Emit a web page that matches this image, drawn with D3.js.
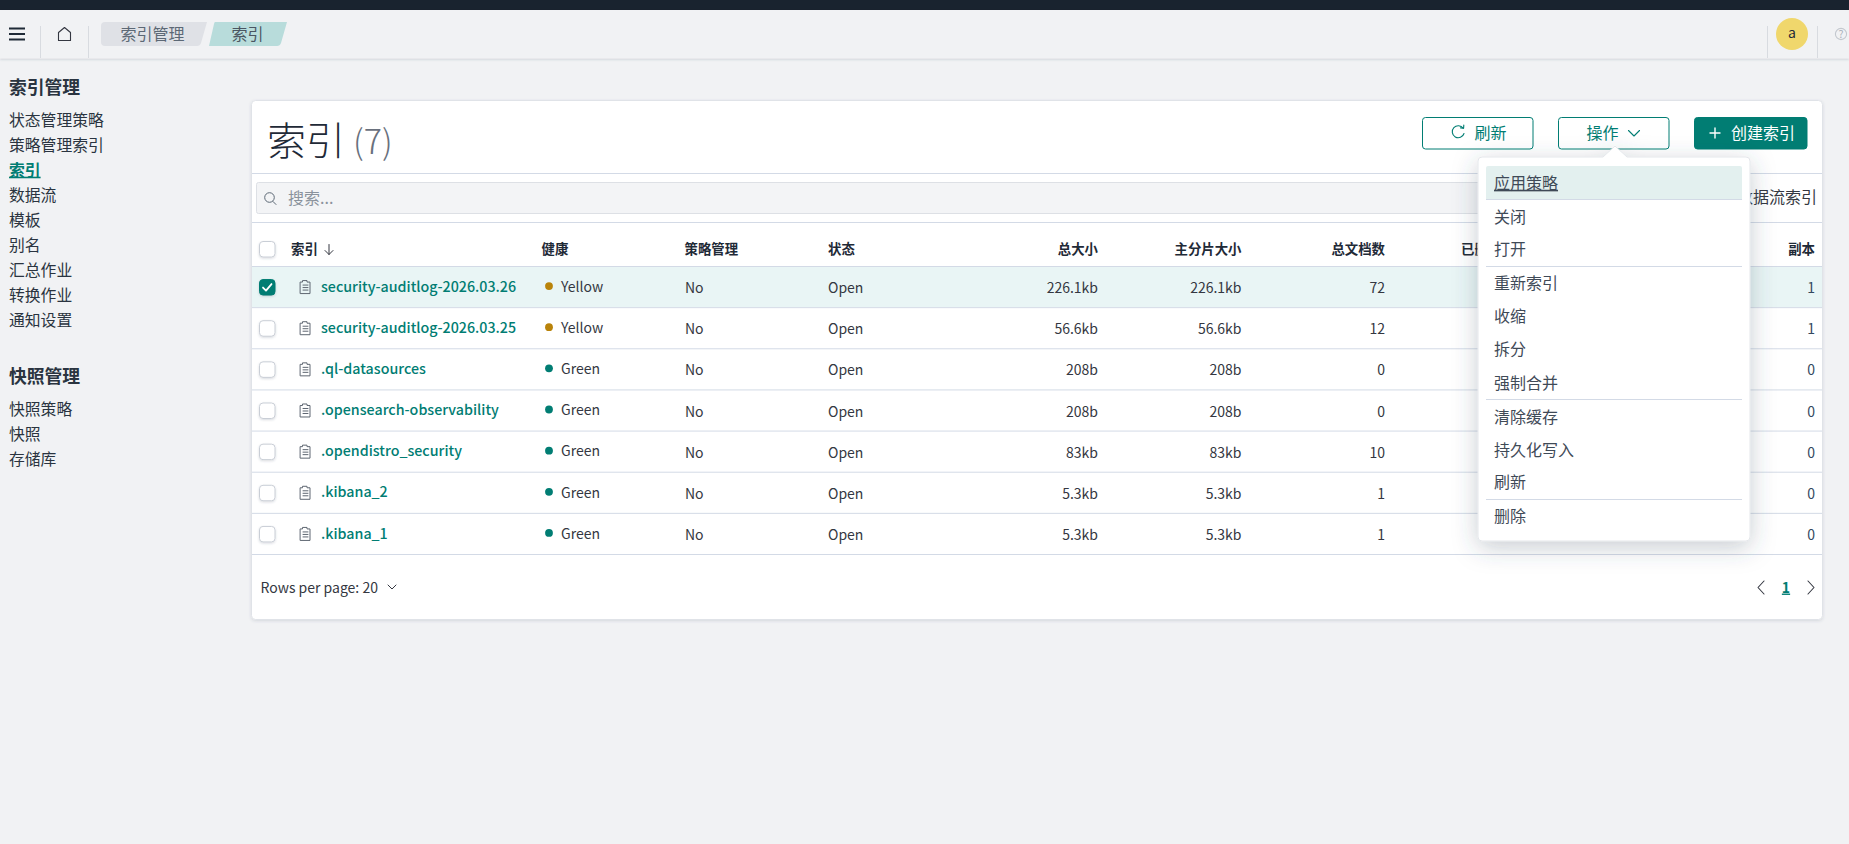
<!DOCTYPE html>
<html lang="zh">
<head>
<meta charset="utf-8">
<title>索引</title>
<script src="https://cdn.jsdelivr.net/npm/d3@7/dist/d3.min.js"></script>
<style>
  html, body { margin: 0; background: #f1f2f4; overflow: hidden; }
  svg { display: block; }
  text { font-family: "Noto Sans CJK SC", "Noto Sans", sans-serif; }
</style>
</head>
<body>
<div id="app"></div>
<script>
const crumbs = ["索引管理", "索引"];
const navIndex = ["状态管理策略", "策略管理索引", "索引", "数据流", "模板", "别名", "汇总作业", "转换作业", "通知设置"];
const navSnapshot = ["快照策略", "快照", "存储库"];
const activeNav = "索引";

const columns = ["索引", "健康", "策略管理", "状态", "总大小", "主分片大小", "总文档数", "已删除文档", "副本"];
const names = ["security-auditlog-2026.03.26", "security-auditlog-2026.03.25", ".ql-datasources", ".opensearch-observability", ".opendistro_security", ".kibana_2", ".kibana_1"];
const health = ["Yellow", "Yellow", "Green", "Green", "Green", "Green", "Green"];
const managed = ["No", "No", "No", "No", "No", "No", "No"];
const status = ["Open", "Open", "Open", "Open", "Open", "Open", "Open"];
const totalSize = ["226.1kb", "56.6kb", "208b", "208b", "83kb", "5.3kb", "5.3kb"];
const primarySize = ["226.1kb", "56.6kb", "208b", "208b", "83kb", "5.3kb", "5.3kb"];
const docCount = ["72", "12", "0", "0", "10", "1", "1"];
const replicas = ["1", "1", "0", "0", "0", "0", "0"];
const selected = [true, false, false, false, false, false, false];

const menuGroups = [["应用策略", "关闭", "打开"], ["重新索引", "收缩", "拆分", "强制合并"], ["清除缓存", "持久化写入", "刷新"], ["删除"]];

const W = 1849, H = 844;
const TEAL = "#017d73", INK = "#343741", NAV = "#2a3440", RULE = "#d3dae6";

const svg = d3.select("#app").append("svg").attr("width", W).attr("height", H).attr("viewBox", `0 0 ${W} ${H}`);
const defs = svg.append("defs");
const shadow = (id, dy, blur, op) => defs.append("filter").attr("id", id)
  .attr("x", "-30%").attr("y", "-30%").attr("width", "160%").attr("height", "170%")
  .append("feDropShadow").attr("dx", 0).attr("dy", dy).attr("stdDeviation", blur)
  .attr("flood-color", "#3a4a5e").attr("flood-opacity", op);
shadow("cardShadow", 1, 1.5, .16);
shadow("popShadow", 6, 12, .28);
shadow("barShadow", 1, 1, .2);

function label(g, x, y, str, o = {}) {
  return g.append("text").attr("x", x).attr("y", y).attr("dy", ".36em")
    .attr("font-size", o.size ?? 16).attr("font-weight", o.weight ?? 400)
    .attr("fill", o.fill ?? INK).attr("text-anchor", o.anchor ?? "start")
    .attr("text-decoration", o.deco ?? null).text(str);
}
function stroke(g, d, color, w = 1.2) {
  return g.append("path").attr("d", d).attr("fill", "none").attr("stroke", color).attr("stroke-width", w)
    .attr("stroke-linecap", "round").attr("stroke-linejoin", "round");
}

// top chrome
svg.append("rect").attr("width", W).attr("height", 10).attr("fill", "#19232f");
const head = svg.append("g");
head.append("rect").attr("y", 10).attr("width", W).attr("height", 48.5).attr("fill", "#f1f2f4").attr("filter", "url(#barShadow)");
[40.5, 88.5, 1767.5, 1817.5].forEach((x) => head.append("line").attr("x1", x).attr("x2", x).attr("y1", 26).attr("y2", 58).attr("stroke", "#d8dbe0"));
[28.5, 34, 39.5].forEach((y) => head.append("line").attr("x1", 9).attr("x2", 25).attr("y1", y).attr("y2", y).attr("stroke", "#1f2a37").attr("stroke-width", 2));
stroke(head, "M58.5 40.5V32.5L64.5 27.5L70.5 32.5V40.5Z", "#343741", 1.1);

const pill = (pts, fill) => head.append("path").attr("d", pts).attr("fill", fill);
pill("M105 22H207L201 43Q200 46 197 46H105Q101 46 101 42V26Q101 22 105 22Z", "#dfe1e6");
pill("M215 22H287L281 43Q280 46 277 46H209L214 24Q214.5 22 215 22Z", "#b8dcdb");
label(head, 152.5, 34.5, crumbs[0], { anchor: "middle", fill: "#5c6875" });
label(head, 247.5, 34.5, crumbs[1], { anchor: "middle", fill: "#4a5561" });

head.append("circle").attr("cx", 1792).attr("cy", 34).attr("r", 16).attr("fill", "#f0d76c");
label(head, 1792, 33, "a", { anchor: "middle", size: 14, fill: "#1f2a37" });
head.append("circle").attr("cx", 1841).attr("cy", 34).attr("r", 5.6).attr("fill", "none").attr("stroke", "#c3c8ce").attr("stroke-width", 1.1);
label(head, 1841, 34, "?", { anchor: "middle", size: 10.5, fill: "#a9b0b9" });

// side nav
const side = svg.append("g");
const navY = d3.scaleLinear().domain([0, 8]).range([120, 320]);
label(side, 9, 88, "索引管理", { size: 17.8, weight: 700, fill: NAV });
side.selectAll("text.nav").data(navIndex).join("text").attr("class", "nav")
  .attr("x", 9).attr("y", (d, i) => navY(i)).attr("dy", ".36em").attr("font-size", 15.8)
  .attr("fill", (d) => d === activeNav ? TEAL : NAV)
  .attr("font-weight", (d) => d === activeNav ? 700 : 400)
  .attr("text-decoration", (d) => d === activeNav ? "underline" : null).text((d) => d);
label(side, 9, 377, "快照管理", { size: 17.8, weight: 700, fill: NAV });
side.selectAll("text.snap").data(navSnapshot).join("text").attr("class", "snap")
  .attr("x", 9).attr("y", (d, i) => navY(i) + 289).attr("dy", ".36em").attr("font-size", 15.8)
  .attr("fill", NAV).text((d) => d);

// card
const card = svg.append("g");
card.append("rect").attr("x", 251.5).attr("y", 100.5).attr("width", 1571).attr("height", 519).attr("rx", 4)
  .attr("fill", "#fff").attr("stroke", "#e0e3e8").attr("filter", "url(#cardShadow)");
label(card, 267, 141, "索引", { size: 39, weight: 300, fill: "#1f2a37" });
label(card, 353, 142, "(7)", { size: 34, weight: 300, fill: "#69707d" });

// toolbar buttons
function button(x, w, filled) {
  return card.append("rect").attr("x", x + .5).attr("y", 117.5).attr("width", w).attr("height", 31.5).attr("rx", 3)
    .attr("fill", filled ? TEAL : "#fff").attr("stroke", TEAL);
}
button(1422, 110.5, false);
stroke(card, "M1463.2 128.3A6 6 0 1 0 1464 133.5", TEAL, 1.1);
stroke(card, "M1460.5 127.9L1463.6 128.1L1463.8 125.1", TEAL, 1.1);
label(card, 1474.5, 133, "刷新", { fill: TEAL });
button(1558, 110.5, false);
label(card, 1586.5, 133, "操作", { fill: TEAL });
stroke(card, "M1628.5 130.5L1634 136L1639.5 130.5", TEAL, 1.1);
button(1694, 112.5, true);
stroke(card, "M1715 128V138M1710 133H1720", "#fff", 1.4);
label(card, 1731, 133, "创建索引", { fill: "#fff" });

// search row
card.append("line").attr("x1", 252).attr("x2", 1822).attr("y1", 173.5).attr("y2", 173.5).attr("stroke", RULE);
card.append("rect").attr("x", 256.5).attr("y", 182.5).attr("width", 1340).attr("height", 31).attr("rx", 2)
  .attr("fill", "#f3f4f6").attr("stroke", "#dde0e5");
card.append("circle").attr("cx", 269.5).attr("cy", 197.5).attr("r", 4.8).attr("fill", "none").attr("stroke", "#5c6875").attr("stroke-width", 1);
stroke(card, "M273 201.5L276 204.5", "#5c6875", 1);
label(card, 288, 198, "搜索...", { fill: "#8a929c" });
label(card, 1817, 197.5, "数据流索引", { anchor: "end", fill: INK });
card.append("line").attr("x1", 252).attr("x2", 1822).attr("y1", 222.5).attr("y2", 222.5).attr("stroke", RULE);

// table
const rowIdx = d3.range(names.length);
const y = d3.scaleBand().domain(rowIdx).range([266, 554]);
const colX = d3.scaleOrdinal().domain(columns).range([291, 541.5, 684.5, 828, 1098, 1241.5, 1385, 1528, 1815]);
const rightAligned = new Set(["总大小", "主分片大小", "总文档数", "已删除文档", "副本"]);

card.selectAll("text.th").data(columns).join("text").attr("class", "th")
  .attr("x", (d) => colX(d)).attr("y", 249).attr("dy", ".36em").attr("font-size", 13.4).attr("font-weight", 700)
  .attr("fill", "#1f2a37").attr("text-anchor", (d) => rightAligned.has(d) ? "end" : "start").text((d) => d);
stroke(card, "M329 244.5V254.5M325 250.5L329 254.5L333 250.5", "#343741", 1);

function checkbox(g, cy, on) {
  g.append("rect").attr("x", 259.5).attr("y", cy - 7.5).attr("width", 15.5).attr("height", 15.5).attr("rx", 3.5)
    .attr("fill", on ? TEAL : "#fff").attr("stroke", on ? TEAL : "#c9ced6").attr("filter", "url(#barShadow)");
  if (on) stroke(g, `M263 ${cy + .5}L266 ${cy + 3.5}L271.5 ${cy - 3}`, "#fff", 1.8);
}
checkbox(card, 249, false);

const rows = card.selectAll("g.row").data(rowIdx).join("g").attr("class", "row")
  .attr("transform", (i) => `translate(0, ${y(i)})`);
rows.append("rect").attr("x", 252).attr("width", 1570).attr("height", y.bandwidth())
  .attr("fill", (i) => selected[i] ? "#e9f5f5" : "#fff");
rows.append("line").attr("x1", 252).attr("x2", 1822).attr("y1", .5).attr("y2", .5).attr("stroke", RULE);
rows.each(function (i) {
  const g = d3.select(this);
  const mid = y.bandwidth() / 2;
  checkbox(g, mid + .5, selected[i]);
  stroke(g, `M300.5 ${mid - 4.5}H302.5V${mid - 6}H307V${mid - 4.5}H310V${mid + 7}H300.5ZM303 ${mid - 1.5}H308M303 ${mid + 1}H308M303 ${mid + 3.5}H308`, "#5f6772", 1);
  label(g, 321, mid, names[i], { size: 14.25, weight: 500, fill: TEAL });
  g.append("circle").attr("cx", 549).attr("cy", mid - .5).attr("r", 3.9).attr("fill", health[i] === "Yellow" ? "#b9830a" : TEAL);
  label(g, 561, mid + .2, health[i], { size: 14, fill: INK });
  label(g, 685, mid + 1.5, managed[i], { size: 14 });
  label(g, 828, mid + 1.5, status[i], { size: 14 });
  label(g, colX("总大小"), mid + 1.5, totalSize[i], { size: 14, anchor: "end" });
  label(g, colX("主分片大小"), mid + 1.5, primarySize[i], { size: 14, anchor: "end" });
  label(g, colX("总文档数"), mid + 1.5, docCount[i], { size: 14, anchor: "end" });
  label(g, colX("副本"), mid + 1.5, replicas[i], { size: 14, anchor: "end", fill: "#34495f" });
});
card.append("line").attr("x1", 252).attr("x2", 1822).attr("y1", 554.5).attr("y2", 554.5).attr("stroke", RULE);

// pagination
label(card, 260.5, 587.5, "Rows per page: 20", { size: 14 });
stroke(card, "M388 585L392 589L396 585", "#343741", 1);
stroke(card, "M1764 581L1758 587.5L1764 594", "#343741", 1.1);
stroke(card, "M1808 581L1814 587.5L1808 594", "#343741", 1.1);
label(card, 1786, 587.5, "1", { size: 14, weight: 700, fill: TEAL, anchor: "middle", deco: "underline" });

// actions popover
const pop = svg.append("g");
pop.append("path").attr("d", "M1478 161Q1478 157 1482 157H1603L1615 146L1627 157H1746Q1750 157 1750 161V537Q1750 541 1746 541H1482Q1478 541 1478 537Z")
  .attr("fill", "#fff").attr("stroke", "#e4e7eb").attr("filter", "url(#popShadow)");
pop.append("path").attr("d", "M1486 168Q1486 166 1488 166H1740Q1742 166 1742 168V199H1486Z").attr("fill", "#e3f0ef");
pop.append("line").attr("x1", 1486).attr("x2", 1742).attr("y1", 199.5).attr("y2", 199.5).attr("stroke", RULE);

const menuItems = menuGroups.flat();
const menuY = d3.scaleOrdinal().domain(menuItems).range([183, 217, 249.5, 283, 316, 349.5, 383, 417, 450, 482.5, 516.5]);
pop.selectAll("text.item").data(menuItems).join("text").attr("class", "item")
  .attr("x", 1494).attr("y", (d) => menuY(d)).attr("dy", ".36em").attr("font-size", 16).attr("fill", "#3f4a57")
  .attr("text-decoration", (d) => d === menuItems[0] ? "underline" : null).text((d) => d);
menuGroups.slice(0, -1).forEach((grp, k) => {
  const yy = [266.5, 399.5, 499.5][k];
  pop.append("line").attr("x1", 1486).attr("x2", 1742).attr("y1", yy).attr("y2", yy).attr("stroke", RULE);
});
</script>
</body>
</html>
